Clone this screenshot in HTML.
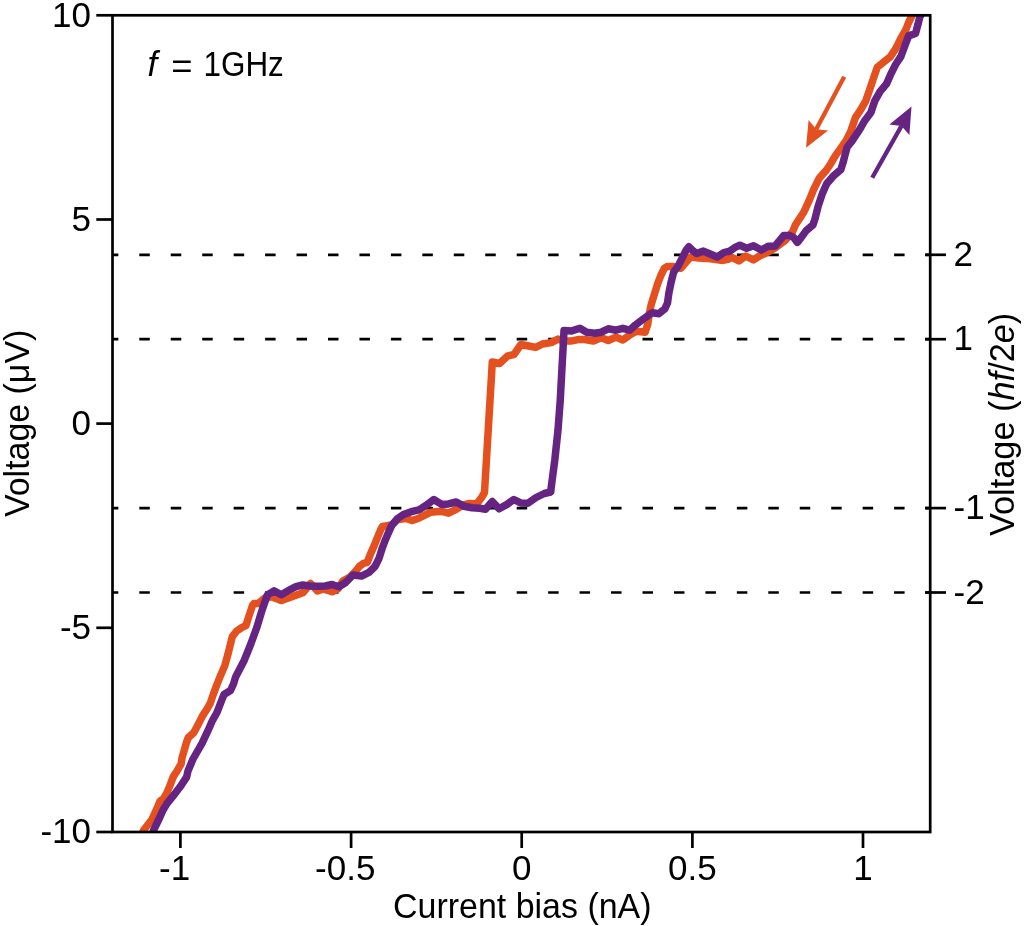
<!DOCTYPE html>
<html><head><meta charset="utf-8"><title>Voltage vs current bias</title>
<style>
html,body{margin:0;padding:0;background:#fff;}
svg{display:block;}
text{font-family:'Liberation Sans', Arial, sans-serif;fill:#000;}
</style></head><body>
<svg width="1025" height="926" viewBox="0 0 1025 926">
<defs><clipPath id="c"><rect x="112.5" y="15.3" width="817.7" height="816.7"/></clipPath></defs>
<rect width="1025" height="926" fill="#fff"/>

<line x1="112.5" y1="254.8" x2="930.2" y2="254.8" stroke="#000" stroke-width="2.7" stroke-dasharray="10.5 20.95" stroke-dashoffset="4.65"/>
<line x1="112.5" y1="339.2" x2="930.2" y2="339.2" stroke="#000" stroke-width="2.7" stroke-dasharray="10.5 20.95" stroke-dashoffset="4.65"/>
<line x1="112.5" y1="508.1" x2="930.2" y2="508.1" stroke="#000" stroke-width="2.7" stroke-dasharray="10.5 20.95" stroke-dashoffset="4.65"/>
<line x1="112.5" y1="592.5" x2="930.2" y2="592.5" stroke="#000" stroke-width="2.7" stroke-dasharray="10.5 20.95" stroke-dashoffset="4.65"/>
<g clip-path="url(#c)" fill="none" stroke-width="7.5" stroke-linejoin="round">
<polyline points="139.0,842.0 143.6,830.2 151.9,819.5 157.7,806.8 160.1,801.0 163.6,798.5 166.5,793.7 170.4,784.4 173.3,776.6 177.2,770.7 181.1,763.9 182.0,758.0 186.5,742.4 188.3,737.6 193.7,732.7 198.5,723.9 202.4,716.1 206.8,709.3 210.2,703.4 213.2,694.6 216.8,684.9 220.2,676.4 224.8,665.6 227.8,654.8 231.0,641.8 232.4,636.4 236.7,631.0 242.1,627.3 245.9,625.6 248.6,617.0 252.6,605.1 254.0,603.5 258.3,603.5 265.0,598.0 271.6,596.7 281.3,600.6 289.1,597.7 296.0,595.2 302.8,592.8 310.6,583.5 317.4,590.9 323.3,588.9 332.1,591.8 337.9,588.9 342.9,581.0 350.0,577.0 355.0,572.0 359.5,566.3 363.4,563.4 367.3,562.4 370.2,554.6 374.1,545.9 378.0,536.1 381.0,529.0 382.5,526.5 391.7,525.0 397.6,519.5 406.3,518.5 412.2,520.5 418.0,518.5 423.9,515.6 430.7,512.2 440.6,511.2 448.4,513.2 456.2,509.3 463.0,505.0 469.9,503.4 476.7,503.9 481.6,497.5 484.5,492.5 492.3,362.0 499.5,363.5 507.3,356.2 514.1,354.3 520.9,344.5 528.7,346.0 535.6,347.4 542.4,344.0 551.2,342.6 558.0,339.1 564.0,341.0 570.7,341.1 578.0,339.6 584.8,339.5 593.5,341.0 601.3,337.6 608.2,340.5 616.0,337.1 622.8,340.0 629.6,335.1 636.5,331.2 645.2,332.2 647.7,324.4 649.1,314.6 651.1,304.9 654.6,293.5 657.6,283.8 661.0,275.0 664.4,268.2 667.3,266.5 672.2,266.5 681.0,268.2 686.8,261.3 690.7,257.0 698.5,257.9 706.3,258.4 714.1,259.4 722.9,260.4 727.8,259.4 731.7,257.4 738.9,260.9 745.7,256.0 753.5,259.9 759.4,256.0 766.2,253.0 775.0,248.0 785.7,239.9 792.6,231.6 795.5,224.8 799.4,218.9 804.0,211.8 809.4,199.9 813.8,189.1 819.2,178.3 826.7,169.7 831.0,163.2 835.4,155.6 840.8,148.1 846.2,140.5 850.5,131.9 855.4,117.7 860.6,109.9 865.8,100.8 870.3,87.8 874.2,76.1 877.4,67.1 883.9,61.9 890.4,56.7 895.6,48.9 900.8,38.5 906.0,29.5 908.4,23.0 911.5,16.8 915.5,8.0" stroke="#E4501E"/>
<polyline points="150.0,842.0 153.6,830.2 158.3,820.5 163.2,809.8 167.1,803.4 173.4,795.6 179.8,787.3 186.6,777.1 188.0,771.0 193.0,759.0 202.0,743.4 208.8,728.8 212.2,721.0 217.1,712.2 222.0,699.5 224.0,694.5 230.5,690.5 233.5,684.0 235.6,677.0 244.3,660.2 250.8,644.0 256.7,627.8 261.6,611.6 265.3,600.8 267.5,594.9 274.0,590.9 281.3,594.8 289.1,590.1 296.0,586.7 302.8,585.0 309.6,586.0 317.4,586.2 325.2,586.0 332.1,584.5 338.9,586.7 345.7,582.5 353.0,575.0 361.5,576.1 369.3,572.2 375.1,566.3 379.0,558.5 382.0,548.8 384.9,541.0 387.8,534.1 391.7,525.4 397.6,518.5 403.4,514.6 411.2,511.7 419.0,509.8 425.9,505.4 433.8,499.5 441.6,504.4 448.4,503.9 456.2,502.0 464.0,506.3 471.8,507.8 479.6,508.3 485.5,509.3 492.3,501.5 499.1,508.8 507.0,504.4 513.8,499.5 520.6,502.9 527.9,503.3 536.1,497.5 544.3,493.5 550.8,492.0 551.0,489.0 554.8,460.0 558.0,430.0 560.2,401.0 561.6,375.0 563.8,334.8 564.0,330.5 571.7,330.9 579.9,328.3 586.7,332.2 594.5,333.2 601.3,332.2 608.2,328.8 616.0,330.2 622.8,328.3 629.6,330.2 635.5,324.9 643.3,319.0 652.1,312.7 658.9,313.7 664.8,308.8 667.5,303.0 668.8,293.5 671.2,281.8 673.7,272.1 678.0,266.2 682.0,258.4 685.9,250.6 688.8,246.7 692.7,250.6 696.6,253.5 703.4,251.1 710.2,254.0 717.1,257.0 723.9,252.6 729.8,251.1 734.6,247.7 739.9,245.2 746.7,248.2 753.5,245.7 761.3,250.1 768.2,246.2 775.0,246.2 778.9,241.3 783.8,235.5 789.6,235.5 793.5,237.4 797.4,242.3 801.3,237.4 806.2,230.6 813.0,224.8 815.0,218.9 818.1,206.4 822.4,193.4 826.7,183.7 833.2,176.2 840.8,169.7 842.9,163.2 845.1,154.6 847.2,147.0 851.6,141.6 855.9,135.1 860.2,128.6 864.5,121.0 870.9,112.5 874.8,100.8 880.0,91.7 886.5,83.9 890.4,74.9 895.6,64.5 900.8,56.7 904.7,46.3 908.6,35.9 915.5,33.5 918.0,24.3 919.8,17.0 924.0,9.0" stroke="#662482"/>
</g>
<line x1="844.2" y1="76.7" x2="816.2" y2="129.2" stroke="#E4501E" stroke-width="4.3"/><polygon points="806,147.7 808.6,120.1 816.2,129.2 828.1,130.4" fill="#E4501E"/>
<line x1="872.2" y1="177.7" x2="901.5" y2="125.9" stroke="#662482" stroke-width="4.3"/><polygon points="911.5,106.6 889.4,124.6 901.5,125.9 909.4,135.1" fill="#662482"/>
<rect x="112.5" y="15.3" width="817.7" height="816.7" fill="none" stroke="#000" stroke-width="2.7"/>
<line x1="96.3" y1="15.3" x2="112.5" y2="15.3" stroke="#000" stroke-width="2.7"/>
<text x="91" y="26.5" font-size="35" text-anchor="end">10</text>
<line x1="96.3" y1="219.5" x2="112.5" y2="219.5" stroke="#000" stroke-width="2.7"/>
<text x="91" y="230.7" font-size="35" text-anchor="end">5</text>
<line x1="96.3" y1="423.6" x2="112.5" y2="423.6" stroke="#000" stroke-width="2.7"/>
<text x="91" y="434.8" font-size="35" text-anchor="end">0</text>
<line x1="96.3" y1="627.8" x2="112.5" y2="627.8" stroke="#000" stroke-width="2.7"/>
<text x="91" y="639.0" font-size="35" text-anchor="end">-5</text>
<line x1="96.3" y1="832.0" x2="112.5" y2="832.0" stroke="#000" stroke-width="2.7"/>
<text x="91" y="843.2" font-size="35" text-anchor="end">-10</text>
<line x1="180.4" y1="832.0" x2="180.4" y2="848" stroke="#000" stroke-width="2.7"/>
<text x="170.7" y="879.8" font-size="35" text-anchor="end">-<tspan x="180.4" text-anchor="middle">1</tspan></text>
<line x1="351.1" y1="832.0" x2="351.1" y2="848" stroke="#000" stroke-width="2.7"/>
<text x="326.7" y="879.8" font-size="35" text-anchor="end">-<tspan x="351.1" text-anchor="middle">0.5</tspan></text>
<line x1="521.7" y1="832.0" x2="521.7" y2="848" stroke="#000" stroke-width="2.7"/>
<text x="521.7" y="879.8" font-size="35" text-anchor="middle">0</text>
<line x1="692.4" y1="832.0" x2="692.4" y2="848" stroke="#000" stroke-width="2.7"/>
<text x="692.4" y="879.8" font-size="35" text-anchor="middle">0.5</text>
<line x1="863.0" y1="832.0" x2="863.0" y2="848" stroke="#000" stroke-width="2.7"/>
<text x="863.0" y="879.8" font-size="35" text-anchor="middle">1</text>
<line x1="925" y1="254.8" x2="946" y2="254.8" stroke="#000" stroke-width="2.7"/>
<text x="953.5" y="265.9" font-size="35">2</text>
<line x1="925" y1="339.2" x2="946" y2="339.2" stroke="#000" stroke-width="2.7"/>
<text x="953.5" y="350.3" font-size="35">1</text>
<line x1="925" y1="508.1" x2="946" y2="508.1" stroke="#000" stroke-width="2.7"/>
<text x="953.5" y="519.2" font-size="35">-1</text>
<line x1="925" y1="592.5" x2="946" y2="592.5" stroke="#000" stroke-width="2.7"/>
<text x="953.5" y="603.6" font-size="35">-2</text>
<text x="147.6" y="76" font-size="35" font-style="italic">f</text>
<text x="171.3" y="77.5" font-size="35" textLength="21.3" lengthAdjust="spacingAndGlyphs">=</text>
<text x="203.5" y="76" font-size="35" textLength="80.3" lengthAdjust="spacingAndGlyphs">1GHz</text>
<text x="393.1" y="918" font-size="35" textLength="258.4" lengthAdjust="spacingAndGlyphs">Current bias (nA)</text>
<text transform="translate(28.6,517) rotate(-90)" font-size="35" textLength="187.3" lengthAdjust="spacingAndGlyphs">Voltage (μV)</text>
<text transform="translate(1013.5,536) rotate(-90)" font-size="35" textLength="223.3" lengthAdjust="spacingAndGlyphs">Voltage (<tspan font-style="italic">hf</tspan>/2<tspan font-style="italic">e</tspan>)</text>
</svg>
</body></html>
